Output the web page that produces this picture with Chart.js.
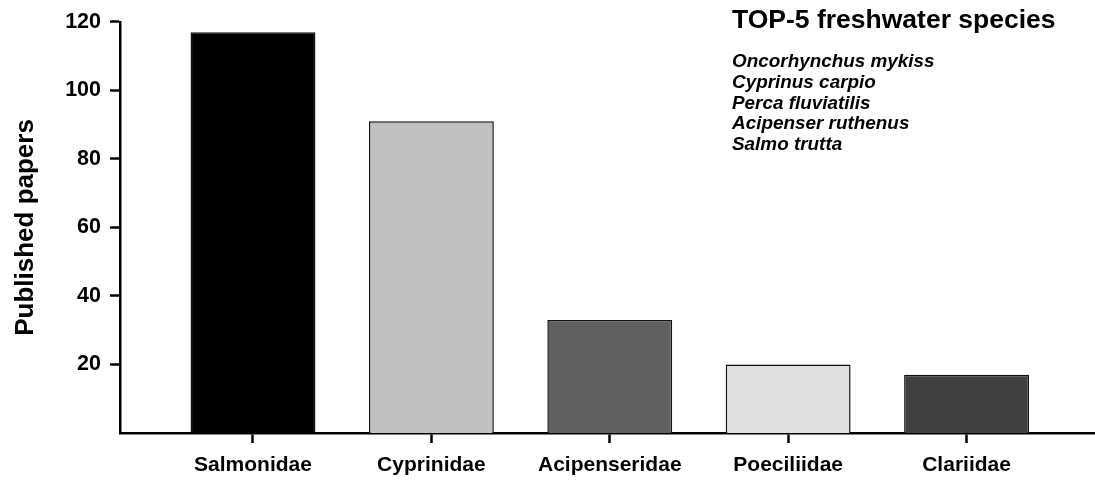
<!DOCTYPE html>
<html>
<head>
<meta charset="utf-8">
<script src="https://cdn.jsdelivr.net/npm/chart.js@4.4.0/dist/chart.umd.min.js"></script>
<style>
  html, body { margin: 0; padding: 0; background: #ffffff; }
  #wrap { position: relative; width: 1095px; height: 481px; }
</style>
</head>
<body>
<div id="wrap"><canvas id="c" width="1095" height="481"></canvas></div>
<script>
const categories = ["Salmonidae", "Cyprinidae", "Acipenseridae", "Poeciliidae", "Clariidae"];
const papers = [117, 91, 33, 20, 17];
const barColors = ["#000000", "#c0c0c0", "#606060", "#e0e0e0", "#404040"];
const yTicks = [20, 40, 60, 80, 100, 120];
const chartTitle = "TOP-5 freshwater species";
const topSpecies = ["Oncorhynchus mykiss", "Cyprinus carpio", "Perca fluviatilis", "Acipenser ruthenus", "Salmo trutta"];
const yTitle = "Published papers";

const FONT = "'Liberation Sans', Arial, Helvetica, sans-serif";

const points = categories.map((c, i) => ({ x: i, y: papers[i] }));

const textPlugin = {
  id: 'textPlugin',
  afterDraw(chart) {
    const ctx = chart.ctx;
    ctx.save();
    ctx.fillStyle = '#000';
    ctx.textAlign = 'left';
    ctx.textBaseline = 'alphabetic';
    ctx.font = "bold 26.5px " + FONT;
    ctx.fillText(chartTitle, 732, 28);
    ctx.font = "italic bold 18.9px " + FONT;
    topSpecies.forEach((s, i) => {
      ctx.fillText(s, 732, 67 + i * 20.8);
    });
    ctx.restore();
  }
};

new Chart(document.getElementById('c'), {
  type: 'bar',
  data: {
    datasets: [{
      data: points,
      backgroundColor: barColors,
      borderColor: '#111111',
      borderWidth: 1.5,
      barPercentage: 0.70,
      categoryPercentage: 1.0
    }]
  },
  options: {
    responsive: false,
    animation: false,
    events: [],
    layout: { padding: { top: 20, right: 0, left: 0, bottom: 0 } },
    plugins: { legend: { display: false }, tooltip: { enabled: false }, title: { display: false } },
    scales: {
      x: {
        type: 'linear',
        offset: false,
        min: -0.7455,
        max: 4.72,
        afterBuildTicks(scale) { scale.ticks = categories.map((c, i) => ({ value: i })); },
        afterFit(scale) { scale.height = 48; },
        ticks: {
          callback: (v) => categories[v] ?? '',
          color: '#000',
          font: { family: FONT, size: 21, weight: 'bold' },
          padding: 10,
          maxRotation: 0,
          autoSkip: false
        },
        grid: { display: true, offset: false, drawOnChartArea: false, drawTicks: true, tickLength: 10, tickWidth: 2.5, tickColor: '#000' },
        border: { display: true, color: '#000', width: 2.5 }
      },
      y: {
        type: 'linear',
        min: 0,
        max: 120,
        afterBuildTicks(scale) { scale.ticks = yTicks.map(v => ({ value: v })); },
        afterFit(scale) { scale.width = 120; },
        ticks: {
          color: '#000',
          font: { family: FONT, size: 21.5, weight: 'bold' },
          padding: 9
        },
        title: {
          display: true,
          text: yTitle,
          color: '#000',
          font: { family: FONT, size: 26, weight: 'bold' },
          padding: { top: 10, bottom: 0 }
        },
        grid: { display: true, drawOnChartArea: false, drawTicks: true, tickLength: 10, tickWidth: 2.5, tickColor: '#000' },
        border: { display: true, color: '#000', width: 2.5 }
      }
    }
  },
  plugins: [textPlugin]
});
</script>
</body>
</html>
